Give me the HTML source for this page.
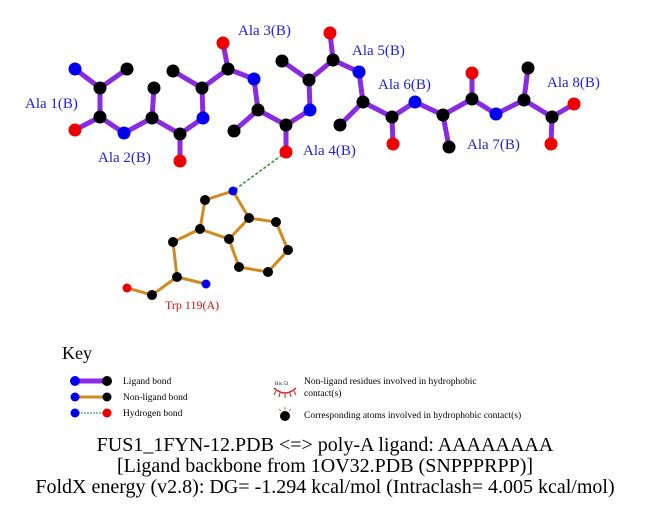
<!DOCTYPE html>
<html><head><meta charset="utf-8"><style>html,body{margin:0;padding:0;background:#fff}svg{display:block}</style></head>
<body>
<svg width="651" height="511" viewBox="0 0 651 511" xmlns="http://www.w3.org/2000/svg" font-family="Liberation Serif, serif">
<g stroke="#8a2be2" stroke-width="5" stroke-linecap="round" fill="none">
<path d="M75,69 L100,88 L127,69 M100,88 L100,117 L75,130 M100,117 L124,133 L152,118 L154,88 M152,118 L180,134 L180,161 M180,134 L203,118 L202,88 L173,71 M202,88 L228,69 L223,43 M228,69 L254,79 L258,110 L234,131 M258,110 L286,125 L286,152 M286,125 L310,110 L309,80 L282,61 M309,80 L333,60 L330,33 M333,60 L359,72 L363,102 L340,125 M363,102 L392,117 L393,144 M392,117 L415,102 L443,115 L449,147 M443,115 L472,99 L472,73 M472,99 L496,114 L524,100 L528,68 M524,100 L552,117 L574,104 M552,117 L551,144"/>
</g>
<g stroke="#d08a1e" stroke-width="3" fill="none">
<path d="M233,191 L205,200 L200,229 L229,239 L249,218 Z M249,218 L276,222 L288,250 L268,272 L239,267 L229,239 M200,229 L173,242 L177,277 L206,284 M177,277 L152,295 L127,288"/>
</g>
<line x1="286" y1="152" x2="233" y2="191" stroke="#2a8a2a" stroke-width="1.5" stroke-dasharray="3,2"/>
<g fill="#000">
<circle cx="100" cy="88" r="6.5"/><circle cx="127" cy="69" r="6.5"/><circle cx="100" cy="117" r="6.5"/><circle cx="152" cy="118" r="6.5"/><circle cx="154" cy="88" r="6.5"/><circle cx="180" cy="134" r="6.5"/><circle cx="202" cy="88" r="6.5"/><circle cx="173" cy="71" r="6.5"/><circle cx="228" cy="69" r="6.5"/><circle cx="258" cy="110" r="6.5"/><circle cx="234" cy="131" r="6.5"/><circle cx="286" cy="125" r="6.5"/><circle cx="309" cy="80" r="6.5"/><circle cx="282" cy="61" r="6.5"/><circle cx="333" cy="60" r="6.5"/><circle cx="363" cy="102" r="6.5"/><circle cx="340" cy="125" r="6.5"/><circle cx="392" cy="117" r="6.5"/><circle cx="443" cy="115" r="6.5"/><circle cx="449" cy="147" r="6.5"/><circle cx="472" cy="99" r="6.5"/><circle cx="524" cy="100" r="6.5"/><circle cx="528" cy="68" r="6.5"/><circle cx="552" cy="117" r="6.5"/>
<circle cx="205" cy="200" r="5"/><circle cx="200" cy="229" r="5"/><circle cx="229" cy="239" r="5"/><circle cx="249" cy="218" r="5"/><circle cx="276" cy="222" r="5"/><circle cx="288" cy="250" r="5"/><circle cx="268" cy="272" r="5"/><circle cx="239" cy="267" r="5"/><circle cx="173" cy="242" r="5"/><circle cx="177" cy="277" r="5"/><circle cx="152" cy="295" r="5"/>
</g>
<g fill="#0000ee">
<circle cx="75" cy="69" r="6.5"/><circle cx="124" cy="133" r="6.5"/><circle cx="203" cy="118" r="6.5"/><circle cx="254" cy="79" r="6.5"/><circle cx="310" cy="110" r="6.5"/><circle cx="359" cy="72" r="6.5"/><circle cx="415" cy="102" r="6.5"/><circle cx="496" cy="114" r="6.5"/>
<circle cx="233" cy="191" r="4.5"/><circle cx="206" cy="284" r="4.5"/>
</g>
<g fill="#ee0000">
<circle cx="75" cy="130" r="6.5"/><circle cx="180" cy="161" r="6.5"/><circle cx="223" cy="43" r="6.5"/><circle cx="286" cy="152" r="6.5"/><circle cx="330" cy="33" r="6.5"/><circle cx="393" cy="144" r="6.5"/><circle cx="472" cy="73" r="6.5"/><circle cx="574" cy="104" r="6.5"/><circle cx="551" cy="144" r="6.5"/>
<circle cx="127" cy="288" r="4.5"/>
</g>
<g fill="#2222cc" font-size="15">
<text x="25" y="108">Ala 1(B)</text><text x="98" y="162">Ala 2(B)</text><text x="238" y="35">Ala 3(B)</text><text x="303" y="155">Ala 4(B)</text><text x="352" y="55">Ala 5(B)</text><text x="378" y="89">Ala 6(B)</text><text x="467" y="149">Ala 7(B)</text><text x="547" y="87">Ala 8(B)</text>
</g>
<text x="165" y="309" fill="#cc1111" font-size="12">Trp 119(A)</text>
<text x="62" y="359" font-size="18">Key</text>
<line x1="75" y1="381" x2="107" y2="381" stroke="#8a2be2" stroke-width="5"/>
<circle cx="75" cy="381" r="5" fill="#0000ee"/><circle cx="107" cy="381" r="5" fill="#000"/>
<line x1="75" y1="397" x2="107" y2="397" stroke="#d08a1e" stroke-width="3"/>
<circle cx="75" cy="397" r="4.5" fill="#0000ee"/><circle cx="107" cy="397" r="4.5" fill="#000"/>
<line x1="75" y1="413" x2="107" y2="413" stroke="#2a8a2a" stroke-width="1" stroke-dasharray="2,1"/>
<circle cx="75" cy="413" r="4.5" fill="#0000ee"/><circle cx="107" cy="413" r="4.5" fill="#ee0000"/>
<g font-size="9.5" fill="#000">
<text x="123" y="384">Ligand bond</text><text x="123" y="400">Non-ligand bond</text><text x="123" y="416">Hydrogen bond</text>
<text x="304" y="384">Non-ligand residues involved in hydrophobic</text><text x="304" y="396">contact(s)</text>
<text x="304" y="418">Corresponding atoms involved in hydrophobic contact(s)</text>
</g>
<text x="275" y="385" font-size="5">His 53</text>
<path d="M274,388 Q285,398 296,388" stroke="#cc2222" stroke-width="1.5" fill="none"/>
<g stroke="#cc2222" stroke-width="1"><line x1="276" y1="391" x2="274" y2="395"/><line x1="280" y1="393" x2="279" y2="397"/><line x1="285" y1="394" x2="285" y2="398"/><line x1="290" y1="393" x2="291" y2="397"/><line x1="294" y1="391" x2="296" y2="395"/></g>
<circle cx="285" cy="416" r="5" fill="#000"/>
<g stroke="#cc2222" stroke-width="0.7"><line x1="279" y1="409" x2="281" y2="411"/><line x1="285" y1="407" x2="285" y2="410"/><line x1="291" y1="409" x2="289" y2="411"/></g>
<g font-size="20" fill="#000" text-anchor="middle">
<text x="325" y="451">FUS1_1FYN-12.PDB &lt;=&gt; poly-A ligand: AAAAAAAA</text>
<text x="325" y="472">[Ligand backbone from 1OV32.PDB (SNPPPRPP)]</text>
<text x="325" y="493">FoldX energy (v2.8): DG= -1.294 kcal/mol (Intraclash= 4.005 kcal/mol)</text>
</g>
</svg>
</body></html>
